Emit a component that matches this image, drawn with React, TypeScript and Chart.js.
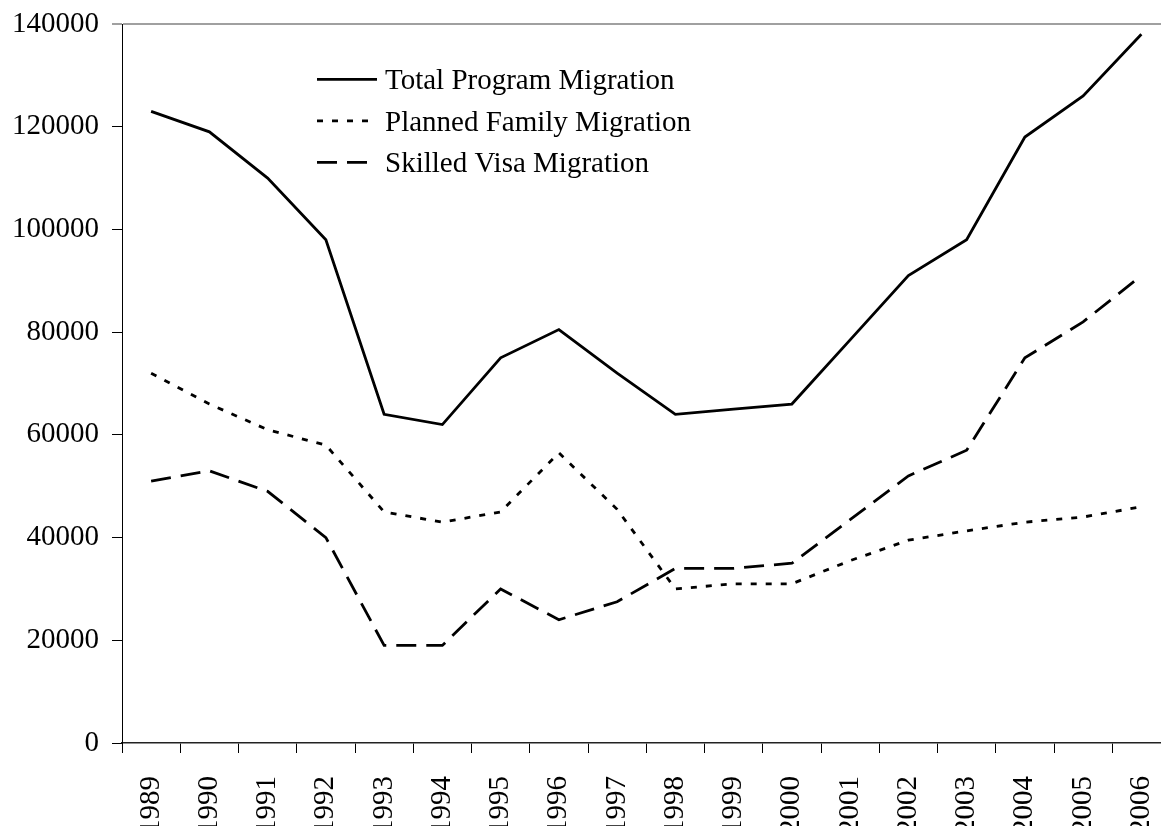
import React, { useEffect, useRef } from "react";
import { Chart, registerables } from "chart.js";

Chart.register(...registerables);

const years = ["1989","1990","1991","1992","1993","1994","1995","1996","1997","1998","1999","2000","2001","2002","2003","2004","2005","2006"];
const totalProgram = [123000,119000,110000,98000,64000,62000,75000,80500,72000,64000,65000,66000,78500,91000,98000,118000,126000,138000];
const plannedFamily = [72000,66000,61000,58000,45000,43000,45000,56500,45500,30000,31000,31000,35500,39500,41300,43000,44000,46000];
const skilledVisa = [51000,53000,49000,40000,19000,19000,30000,24000,27500,34000,34000,35000,43500,52000,57000,75000,82000,91000];
const seriesLabels = ["Total Program Migration", "Planned Family Migration", "Skilled Visa Migration"];
const yMin = 0;
const yMax = 140000;
const yStep = 20000;

const FONT = "'Liberation Serif', 'Times New Roman', Times, serif";
const FONT_SIZE = 29;

const insideLegend = {
  id: "insideLegend",
  afterDatasetsDraw(chart: any) {
    const { ctx, chartArea } = chart;
    const x0 = chartArea.left + 195;
    const y0 = chartArea.top + 55.3;
    const rowGap = 41.5;
    const sampleLen = 60;
    ctx.save();
    chart.data.datasets.forEach((ds: any, i: number) => {
      const y = y0 + i * rowGap;
      ctx.beginPath();
      ctx.strokeStyle = ds.borderColor;
      ctx.lineWidth = ds.borderWidth;
      ctx.setLineDash(ds.borderDash || []);
      ctx.moveTo(x0, y);
      ctx.lineTo(x0 + sampleLen, y);
      ctx.stroke();
      ctx.setLineDash([]);
      ctx.fillStyle = "#000";
      ctx.font = `${FONT_SIZE}px ${FONT}`;
      ctx.textAlign = "left";
      ctx.textBaseline = "alphabetic";
      ctx.fillText(ds.label, x0 + sampleLen + 8, y + 10);
    });
    ctx.restore();
  },
};

export default function App() {
  const ref = useRef<HTMLCanvasElement | null>(null);
  useEffect(() => {
    if (!ref.current) return;
    const chart = new Chart(ref.current, {
      type: "line",
      data: {
        labels: years,
        datasets: [
          { label: seriesLabels[0], data: totalProgram, borderColor: "#000", borderWidth: 2.8, borderDash: [], pointRadius: 0, tension: 0, fill: false },
          { label: seriesLabels[1], data: plannedFamily, borderColor: "#000", borderWidth: 2.8, borderDash: [6, 9], pointRadius: 0, tension: 0, fill: false },
          { label: seriesLabels[2], data: skilledVisa, borderColor: "#000", borderWidth: 2.8, borderDash: [20, 10], pointRadius: 0, tension: 0, fill: false },
        ],
      },
      options: {
        animation: false,
        responsive: false,
        devicePixelRatio: 1,
        layout: { padding: { top: 24, right: 29.5, left: 0, bottom: 0 } },
        plugins: { legend: { display: false }, tooltip: { enabled: false } },
        scales: {
          x: {
            type: "category",
            offset: true,
            afterFit: (s: any) => { s.height = 83; },
            grid: { offset: true, drawOnChartArea: false, drawTicks: true, tickLength: 10, color: "#000", lineWidth: 1 },
            border: { color: "#222", width: 1.5 },
            ticks: { autoSkip: false, maxRotation: 90, minRotation: 90, padding: 23, color: "#000", font: { family: FONT, size: FONT_SIZE } },
          },
          y: {
            min: yMin,
            max: yMax,
            afterFit: (s: any) => { s.width = 122; s.paddingTop = 0; s.paddingBottom = 0; },
            grid: {
              drawOnChartArea: true,
              tickLength: 10,
              color: (c: any) => (c.tick && c.tick.value === yMax ? "#a0a0a0" : "rgba(0,0,0,0)"),
              tickColor: (c: any) => (c.tick && c.tick.value === yMax ? "#a0a0a0" : "#000"),
              lineWidth: (c: any) => (c.tick && c.tick.value === yMax ? 2 : 1),
            },
            border: { color: "#000", width: 1 },
            ticks: {
              stepSize: yStep,
              padding: 13,
              color: "#000",
              font: { family: FONT, size: FONT_SIZE },
              callback: (v: any) => String(v),
            },
          },
        },
      },
      plugins: [insideLegend],
    });
    return () => chart.destroy();
  }, []);
  return (
    <div style={{ position: "absolute", left: 0, top: 0, width: 1161, height: 826, overflow: "hidden", background: "#fff" }}>
      <canvas ref={ref} width={1200} height={826} style={{ display: "block" }} />
    </div>
  );
}
